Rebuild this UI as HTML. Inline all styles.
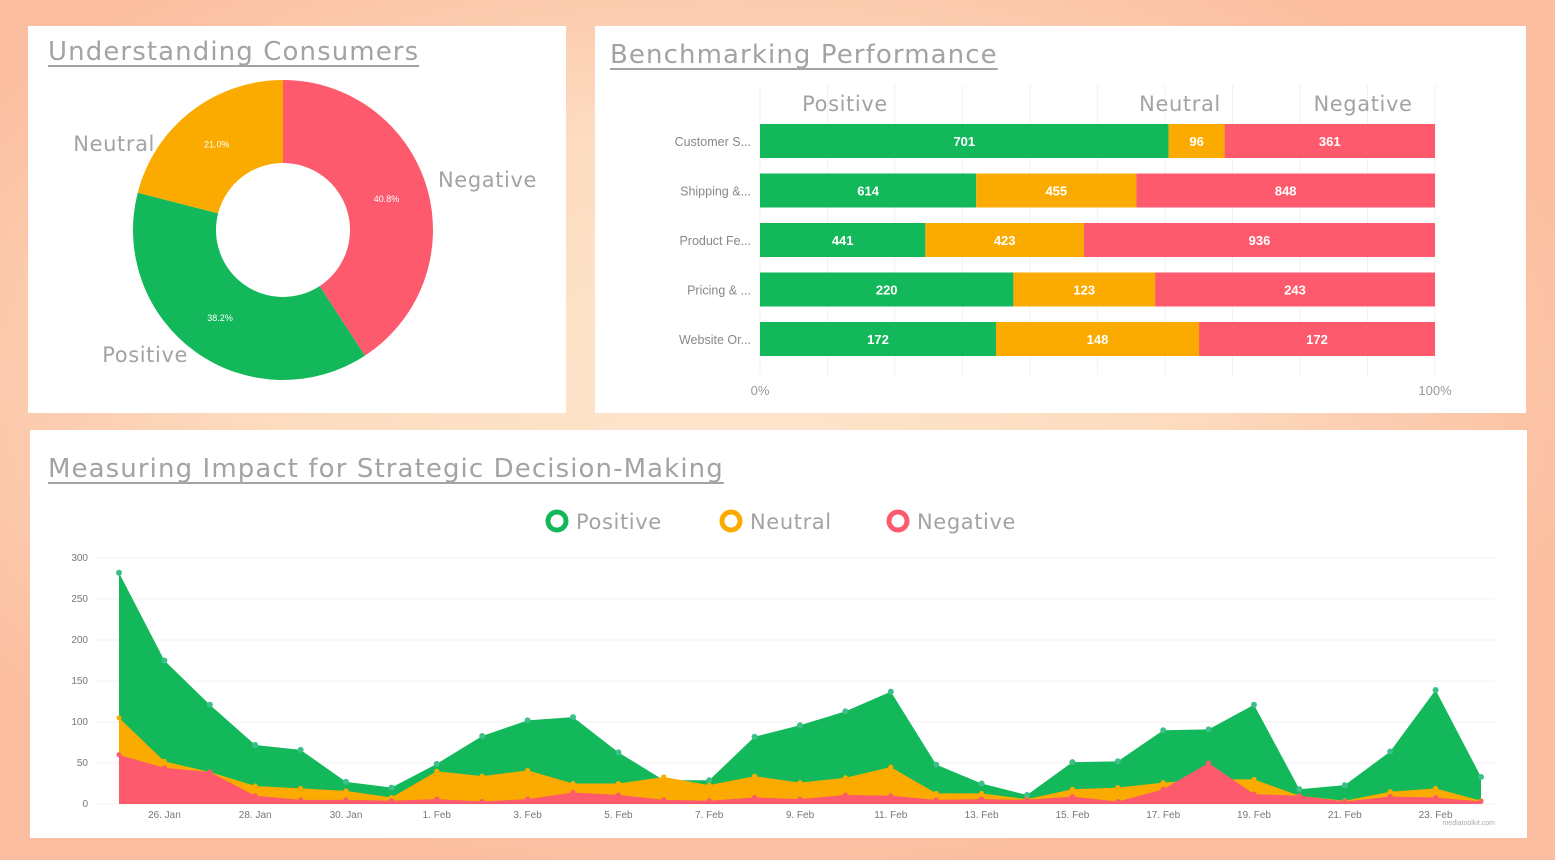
<!DOCTYPE html>
<html><head><meta charset="utf-8">
<style>
html,body{margin:0;padding:0}
body{width:1555px;height:860px;overflow:hidden;position:relative;font-family:"DejaVu Sans","Liberation Sans",sans-serif;
background:radial-gradient(ellipse 900px 500px at 720px 380px,#fde6cd 0%,#fddcc0 50%,#fbbd9f 100%);}
.panel{position:absolute;background:#fff}
.title{position:absolute;color:#a3a3a3;font-size:26px;letter-spacing:1.1px;text-decoration:underline;text-decoration-thickness:2px;text-underline-offset:5px;white-space:nowrap}
svg{position:absolute;left:0;top:0}
</style></head><body>
<div class="panel" style="left:28px;top:26px;width:538px;height:387px"></div>
<div class="panel" style="left:595px;top:26px;width:931px;height:387px"></div>
<div class="panel" style="left:30px;top:430px;width:1497px;height:408px"></div>
<div class="title" style="left:48px;top:37px">Understanding Consumers </div>
<div class="title" style="left:610px;top:40px">Benchmarking Performance</div>
<div class="title" style="left:48px;top:454px">Measuring Impact for Strategic Decision-Making</div>
<svg id="s" width="1555" height="860"></svg>
<script>
const donutLabels=["Negative","Positive","Neutral"];
const donutValues=[40.8,38.2,21.0];
const barCats=["Customer S...","Shipping &...","Product Fe...","Pricing & ...","Website Or..."];
const barPos=[701,614,441,220,172];
const barNeu=[96,455,423,123,148];
const barNeg=[361,848,936,243,172];
const days=["25. Jan","26. Jan","27. Jan","28. Jan","29. Jan","30. Jan","31. Jan","1. Feb","2. Feb","3. Feb","4. Feb","5. Feb","6. Feb","7. Feb","8. Feb","9. Feb","10. Feb","11. Feb","12. Feb","13. Feb","14. Feb","15. Feb","16. Feb","17. Feb","18. Feb","19. Feb","20. Feb","21. Feb","22. Feb","23. Feb","24. Feb"];
const posSeries=[282,175,121,72,66,27,20,49,83,102,106,63,29,29,82,96,113,137,48,25,11,51,52,90,91,121,18,23,64,139,33];
const neuSeries=[105,52,39,22,19,16,8,40,34,41,25,25,33,23,34,26,32,45,13,13,6,18,20,26,30,30,10,4,15,19,4];
const negSeries=[60,44,39,10,5,5,4,6,3,6,14,11,5,4,8,6,11,10,5,6,5,9,3,18,50,12,10,3,9,8,3];
const yTicks=[0,50,100,150,200,250,300];
const C={pos:"#12b85a",neu:"#fbab00",neg:"#fd5a6e"};
const svg=document.getElementById('s');const NS="http://www.w3.org/2000/svg";
function mk(t,a,p){const e=document.createElementNS(NS,t);for(const k in a)e.setAttribute(k,a[k]);(p||svg).appendChild(e);return e;}
function txt(x,y,s,a){const e=mk('text',Object.assign({x:x,y:y},a));e.textContent=s;return e;}
const gray="#a3a3a3";
// Donut
const cx=283,cy=230,R=150,r=67;const cols=[C.neg,C.pos,C.neu];
const total=donutValues.reduce((a,b)=>a+b,0);let ang=-Math.PI/2;
const lblPos=[[438,187,"start"],[188,362,"end"],[155,151,"end"]];
donutValues.forEach((v,i)=>{const a2=ang+v/total*2*Math.PI;const big=(a2-ang)>Math.PI?1:0;
const p=(rr,a)=>[cx+rr*Math.cos(a),cy+rr*Math.sin(a)];
const [x1,y1]=p(R,ang),[x2,y2]=p(R,a2),[x3,y3]=p(r,a2),[x4,y4]=p(r,ang);
const s=mk('path',{d:`M${x1},${y1}A${R},${R} 0 ${big} 1 ${x2},${y2}L${x3},${y3}A${r},${r} 0 ${big} 0 ${x4},${y4}Z`,fill:cols[i]});


const m=(ang+a2)/2;const [lx,ly]=p(108,m);
const t=txt(lx,ly+3,v.toFixed(1)+"%",{fill:"#fff","font-size":"9","text-anchor":"middle","font-family":"Liberation Sans"});

const L=txt(lblPos[i][0],lblPos[i][1],donutLabels[i],{fill:gray,"font-size":"21","text-anchor":lblPos[i][2],"letter-spacing":"0.6"});

ang=a2;});
// Bars
const bx0=760,bx1=1435;
for(let i=0;i<=10;i++){const gx=bx0+(bx1-bx0)*i/10;const g=mk('line',{x1:gx,x2:gx,y1:85,y2:375,stroke:"#f2f2f2"});}
[["Positive",845],["Neutral",1180],["Negative",1363]].forEach(h=>{const t=txt(h[1],111,h[0],{fill:gray,"font-size":"21","text-anchor":"middle","letter-spacing":"0.6"});});
barCats.forEach((c,i)=>{const y=141+i*49.5;const vals=[barPos[i],barNeu[i],barNeg[i]];const tot=vals[0]+vals[1]+vals[2];let x=bx0;
const l=txt(751,y+5,c,{fill:"#888","font-size":"12.5","text-anchor":"end","font-family":"Liberation Sans"});
[C.pos,C.neu,C.neg].forEach((col,j)=>{const w=vals[j]/tot*(bx1-bx0);const b=mk('rect',{x:x,y:y-17,width:w,height:34,fill:col});

const t=txt(x+w/2,y+5,vals[j],{fill:"#fff","font-size":"13","font-weight":"bold","text-anchor":"middle","font-family":"Liberation Sans"});x+=w;});});
[["0%",760],["100%",1435]].forEach(a=>{const t=txt(a[1],395,a[0],{fill:"#999","font-size":"13","text-anchor":"middle","font-family":"Liberation Sans"});});
// Area chart
const ax0=119,ax1=1481,ay0=804,ay1=558;
const X=i=>ax0+(ax1-ax0)*i/(days.length-1);const Y=v=>ay0-(ay0-ay1)*v/300;
yTicks.forEach(v=>{const g=mk('line',{x1:95,x2:1495,y1:Y(v),y2:Y(v),stroke:"#f0f0f0"});
const t=txt(88,Y(v)+3,v,{fill:"#777","font-size":"10","text-anchor":"end","font-family":"Liberation Sans"});});
[[posSeries,C.pos,"positive"],[neuSeries,C.neu,"neutral"],[negSeries,C.neg,"negative"]].forEach(s=>{
let d=`M${X(0)},${Y(0)}`;s[0].forEach((v,i)=>{d+=`L${X(i)},${Y(v)}`;});d+=`L${X(s[0].length-1)},${Y(0)}Z`;
const a=mk('path',{d:d,fill:s[1]});
s[0].forEach((v,i)=>{const m=mk('circle',{cx:X(i),cy:Y(v),r:s[2]=="positive"?3:2.5,fill:s[2]=="positive"?"#3cc08a":s[1]});});});
days.forEach((d,i)=>{if(i%2==1){const t=txt(X(i),818,d,{fill:"#777","font-size":"10","text-anchor":"middle","font-family":"Liberation Sans"});}});
const wm=txt(1495,825,"mediatoolkit.com",{fill:"#aaa","font-size":"7","text-anchor":"end","font-family":"Liberation Sans"});
// Legend
[["Positive",C.pos,557],["Neutral",C.neu,731],["Negative",C.neg,898]].forEach(l=>{
const c=mk('circle',{cx:l[2],cy:521,r:9,fill:"none",stroke:l[1],"stroke-width":"5"});
const t=txt(l[2]+19,529,l[0],{fill:gray,"font-size":"21","letter-spacing":"0.6"});});
</script>
</body></html>
